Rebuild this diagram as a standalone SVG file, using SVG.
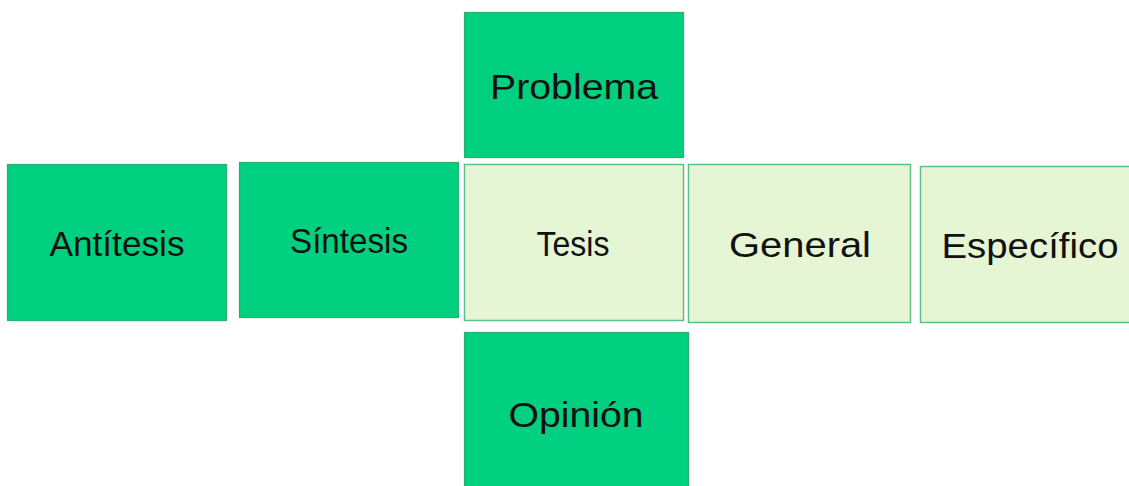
<svg xmlns="http://www.w3.org/2000/svg" width="1129" height="486" viewBox="0 0 1129 486">
<style>
.dark{fill:#00D07F;stroke:#2BAF70;stroke-width:1.2}
.light{fill:#E6F5D3;stroke:#5CC08C;stroke-width:1.5}
text{font-family:"Liberation Sans","DejaVu Sans",sans-serif;font-size:35px;fill:#111;text-anchor:middle}
</style>
<rect width="1129" height="486" fill="#fff"/>
<g id="problema"><rect class="dark" x="464.5" y="12.5" width="219" height="145"/><text x="574" y="99" textLength="168" lengthAdjust="spacingAndGlyphs">Problema</text></g>
<g id="antitesis"><rect class="dark" x="7.5" y="164.5" width="219" height="156"/><text x="117" y="256" textLength="135" lengthAdjust="spacingAndGlyphs">Antítesis</text></g>
<g id="sintesis"><rect class="dark" x="239.5" y="162.5" width="219" height="155"/><text x="349" y="253" textLength="118" lengthAdjust="spacingAndGlyphs">Síntesis</text></g>
<g id="tesis"><rect class="light" x="464.5" y="164.5" width="219" height="156"/><text x="573" y="256" textLength="73" lengthAdjust="spacingAndGlyphs">Tesis</text></g>
<g id="general"><rect class="light" x="688.5" y="164.5" width="222" height="158"/><text x="800" y="257" textLength="142" lengthAdjust="spacingAndGlyphs">General</text></g>
<g id="especifico"><rect class="light" x="920.5" y="166.5" width="212" height="156"/><text x="1030" y="258" textLength="177" lengthAdjust="spacingAndGlyphs">Específico</text></g>
<g id="opinion"><rect class="dark" x="464.5" y="332.5" width="224" height="160"/><text x="576" y="427" textLength="135" lengthAdjust="spacingAndGlyphs">Opinión</text></g>
<g id="connectors"></g>
</svg>
